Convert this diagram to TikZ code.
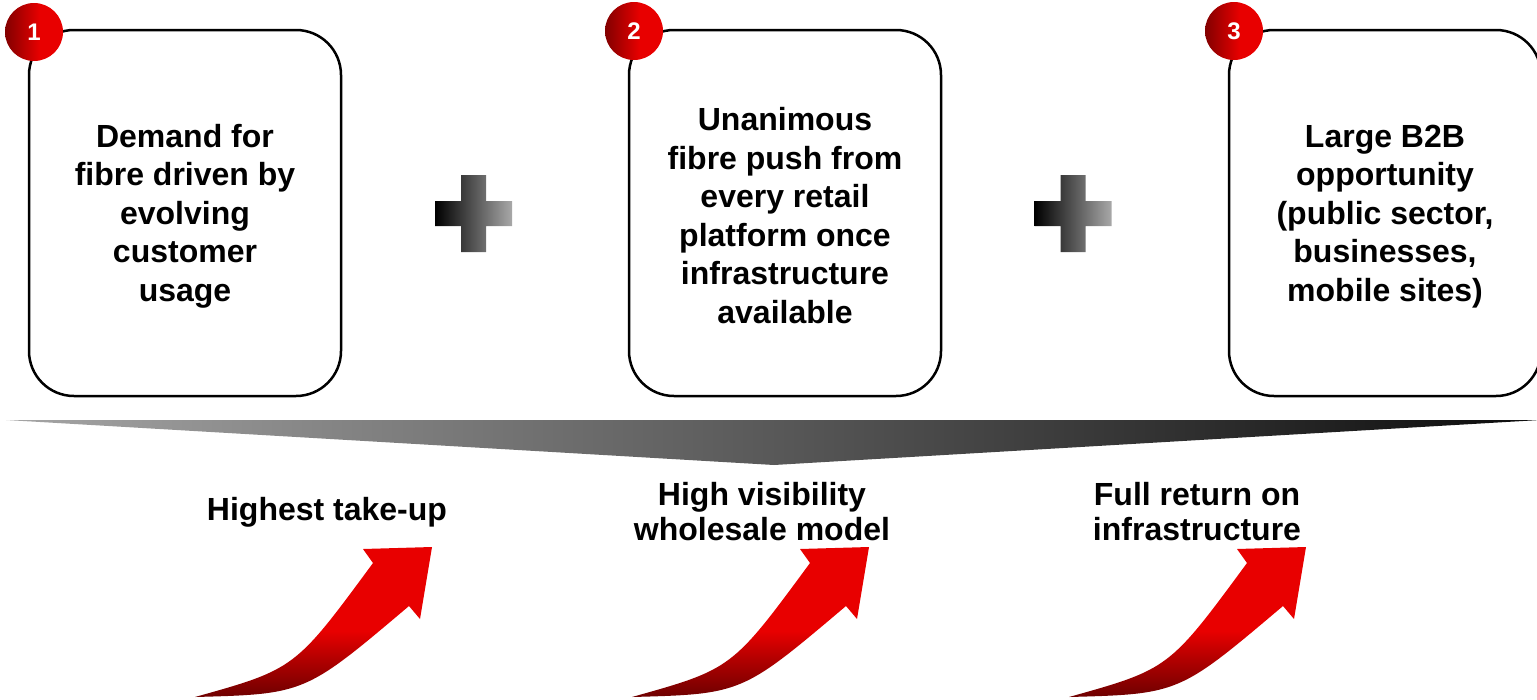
\documentclass[tikz,border=0pt]{standalone}
\usepackage{fontspec}
\setmainfont{Liberation Sans}
\definecolor{dkred}{RGB}{130,0,0}
\definecolor{brred}{RGB}{232,0,0}
\definecolor{arrdk}{RGB}{110,0,0}
\definecolor{arrmid}{RGB}{180,0,0}
\definecolor{plusgrey}{RGB}{168,168,168}
\definecolor{trilt}{RGB}{165,165,165}
\definecolor{tridk}{RGB}{12,12,12}
\pgfdeclarehorizontalshading{numshade}{100bp}{color(0bp)=(dkred); color(25bp)=(dkred); color(55bp)=(brred); color(100bp)=(brred)}
\pgfdeclareverticalshading{arrowshade}{100bp}{color(0bp)=(arrdk); color(25bp)=(arrdk); color(38bp)=(arrmid); color(47bp)=(brred); color(100bp)=(brred)}
\pgfdeclarehorizontalshading{plusshade}{100bp}{color(0bp)=(black); color(25bp)=(black); color(75bp)=(plusgrey); color(100bp)=(plusgrey)}
\pgfdeclarehorizontalshading{trishade}{100bp}{color(0bp)=(trilt); color(25bp)=(trilt); color(75bp)=(tridk); color(100bp)=(tridk)}
\begin{document}
\begin{tikzpicture}[x=1pt,y=-1pt,
  box/.style={draw=black, line width=2.5pt, rounded corners=45pt, minimum width=312pt, minimum height=366pt, align=center, inner sep=0pt, font=\fontsize{32}{38.5}\selectfont\bfseries},
  numc/.style={circle, shade, shading=numshade, minimum size=58pt, inner sep=0pt, text=white, font=\fontsize{24}{24}\selectfont\bfseries},
  lbl/.style={align=center, inner sep=0pt, font=\fontsize{32}{35}\selectfont\bfseries},
  boxtext/.style={align=center, inner sep=0pt, font=\fontsize{32}{38.5}\selectfont\bfseries},
  plusshape/.style={shade, shading=plusshade},
  arrowshape/.style={shade, shading=arrowshade}
]
\useasboundingbox (0,0) rectangle (1537,699);

% boxes
\node[box] (b1) at (185,213) {};
\node[box] (b2) at (785,213) {};
\node[box] (b3) at (1385,213) {};
\node[boxtext] (t1) at (185,216) {Demand for\\fibre driven by\\evolving\\customer\\usage};
\node[boxtext] (t2) at (785,215.5) {Unanimous\\fibre push from\\every retail\\platform once\\infrastructure\\available};
\node[boxtext] (t3) at (1385,216.5) {Large B2B\\opportunity\\(public sector,\\businesses,\\mobile sites)};

% number circles
\node[numc] (n1) at (34,32) {1};
\node[numc] (n2) at (634,31) {2};
\node[numc] (n3) at (1234,31) {3};

% plus signs
\foreach \cx in {473.5,1073} {
  \shade[plusshape] (\cx-38.5,201) -- (\cx-12.5,201) -- (\cx-12.5,175) -- (\cx+12.5,175) -- (\cx+12.5,201) -- (\cx+38.5,201)
    -- (\cx+38.5,226) -- (\cx+12.5,226) -- (\cx+12.5,252) -- (\cx-12.5,252) -- (\cx-12.5,226) -- (\cx-38.5,226) -- cycle;
}

% funnel triangle
\coordinate (tl) at (6,420);
\coordinate (tr) at (1540,420);
\coordinate (tb) at (774,465);
\shade[shading=trishade] (tl) -- (tr) -- (tb) -- cycle;

% labels
\node[lbl] (l1) at (327,512.5) {Highest take-up};
\node[lbl] (l2) at (762,512) {High visibility\\wholesale model};
\node[lbl] (l3) at (1197,512) {Full return on\\infrastructure};

% arrows
\foreach \dx in {0,437,874} {
  \begin{scope}[shift={(195+\dx,697)}]
  \shade[arrowshape] (0,0) .. controls (100,-28) .. (178,-134) -- (168,-148) -- (237,-150) -- (225,-78) -- (214,-91) .. controls (110,-3) .. cycle;
  \end{scope}
}
\end{tikzpicture}
\end{document}
